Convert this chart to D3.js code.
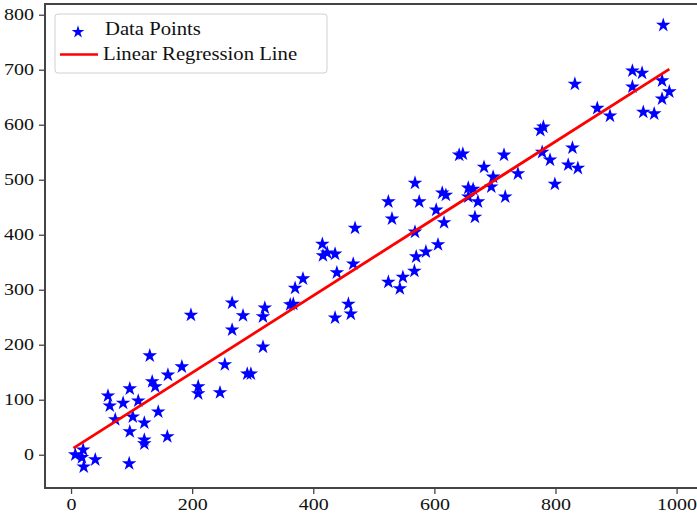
<!DOCTYPE html>
<html>
<head>
<meta charset="utf-8">
<script src="https://cdn.jsdelivr.net/npm/d3@7"></script>
<style>
  body { margin: 0; background: #fff; }
  text { font-family: "Liberation Serif", "Times New Roman", serif; }
</style>
</head>
<body>
<div id="chart"></div>
<script>
// data
var xVals = [7, 20, 18, 40, 21, 96, 61, 64, 86, 97, 111, 73, 102, 121, 144, 97, 121, 121, 159, 130,
             134, 139, 160, 183, 210, 210, 246, 198, 254, 291, 297, 266, 284, 266, 320, 317, 317, 362, 367, 370,
             383, 415, 416, 423, 436, 439, 436, 458, 462, 466, 469, 524, 530, 524, 543, 548, 567, 570, 568, 575,
             586, 606, 603, 616, 613, 619, 641, 647, 656, 664, 656, 672, 667, 682, 694, 697, 715, 717, 738, 775,
             780, 778, 791, 799, 821, 828, 837, 832, 869, 890, 927, 943, 927, 945, 963, 976, 988, 976, 978, 568];
var yVals = [0, 9, -5, -9, -22, -16, 107, 89, 94, 120, 98, 64, 69, 58, 78, 42, 27, 20, 33, 180,
             133, 124, 145, 160, 124, 111, 113, 254, 164, 147, 147, 276, 253, 227, 267, 251, 196, 273, 274, 303,
             320, 383, 362, 367, 365, 331, 249, 274, 256, 347, 412, 460, 429, 314, 302, 323, 334, 360, 405, 460,
             369, 382, 445, 422, 476, 472, 545, 547, 485, 483, 469, 460, 432, 523, 487, 505, 545, 469, 511, 590,
             596, 550, 536, 492, 527, 558, 521, 674, 630, 616, 698, 694, 669, 623, 620, 680, 660, 647, 781, 494];

// regression line end points
var regX = [4, 988];
var regY = [12, 701];

var xTicks = [0, 200, 400, 600, 800, 1000];
var yTicks = [0, 100, 200, 300, 400, 500, 600, 700, 800];
var legendLabels = ["Data Points", "Linear Regression Line"];

var points = xVals.map(function(d, i) { return {x: d, y: yVals[i]}; });
var regLine = regX.map(function(d, i) { return {x: d, y: regY[i]}; });

// set the dimensions and margins of the graph
var margin = {top: 4, right: 0, bottom: 37, left: 45},
    width = 654,
    height = 484;

var svg = d3.select("#chart")
  .append("svg")
    .attr("width", 697)
    .attr("height", 525)
  .append("g")
    .attr("transform", "translate(" + margin.left + "," + margin.top + ")");

var x = d3.scaleLinear()
  .domain([-43, 1037])
  .range([0, width]);

var y = d3.scaleLinear()
  .domain([-60.5, 819.5])
  .range([height, 0]);

var axisColor = "#444";
var stretch = "scale(1.25,1)";

// X axis
var gx = svg.append("g")
  .attr("transform", "translate(0," + height + ")")
  .call(d3.axisBottom(x).tickValues(xTicks).tickSize(6).tickPadding(5).tickFormat(d3.format("d")));
gx.select(".domain").remove();

// Y axis
var gy = svg.append("g")
  .call(d3.axisLeft(y).tickValues(yTicks).tickSize(6).tickPadding(3).tickFormat(d3.format("d")));
gy.select(".domain").remove();

svg.selectAll(".tick line").attr("stroke", axisColor).attr("stroke-width", 1.3);
svg.selectAll(".tick text")
  .attr("fill", "#111")
  .style("font-family", "'Liberation Serif', serif")
  .style("font-size", "16px")
  .attr("transform", stretch);
gy.selectAll(".tick text").attr("x", -8.8);

// frame
svg.append("rect")
  .attr("x", 0)
  .attr("y", 0)
  .attr("width", width)
  .attr("height", height)
  .attr("fill", "none")
  .attr("stroke", axisColor)
  .attr("stroke-width", 2);

// star markers
var star = d3.symbol().type(d3.symbolStar).size(66);

svg.selectAll("myPoints")
  .data(points)
  .enter()
  .append("path")
    .attr("d", star)
    .attr("transform", function(d) { return "translate(" + x(d.x) + "," + y(d.y) + ")"; })
    .attr("fill", "#0000ff");

// regression line
var line = d3.line()
  .x(function(d) { return x(d.x); })
  .y(function(d) { return y(d.y); });

svg.append("path")
  .datum(regLine)
  .attr("d", line)
  .attr("fill", "none")
  .attr("stroke", "#ff0000")
  .attr("stroke-width", 2.8);

// legend
var legend = svg.append("g")
  .attr("transform", "translate(" + (55 - margin.left) + "," + (14 - margin.top) + ")");

legend.append("rect")
  .attr("width", 272)
  .attr("height", 59)
  .attr("rx", 3)
  .attr("fill", "white")
  .attr("fill-opacity", 0.8)
  .attr("stroke", "#d0d0d0")
  .attr("stroke-width", 1);

legend.append("path")
  .attr("d", d3.symbol().type(d3.symbolStar).size(50))
  .attr("transform", "translate(23,18)")
  .attr("fill", "#0000ff");

legend.append("line")
  .attr("x1", 5)
  .attr("x2", 43)
  .attr("y1", 40.5)
  .attr("y2", 40.5)
  .attr("stroke", "#ff0000")
  .attr("stroke-width", 2.6);

legend.selectAll("myLabels")
  .data(legendLabels)
  .enter()
  .append("text")
    .attr("transform", function(d, i) {
      return "translate(" + (i == 0 ? 50 : 48) + "," + (i == 0 ? 21 : 46) + ") scale(1.15,1)";
    })
    .text(function(d) { return d; })
    .attr("fill", "#111")
    .style("font-size", "18px");
</script>
</body>
</html>
